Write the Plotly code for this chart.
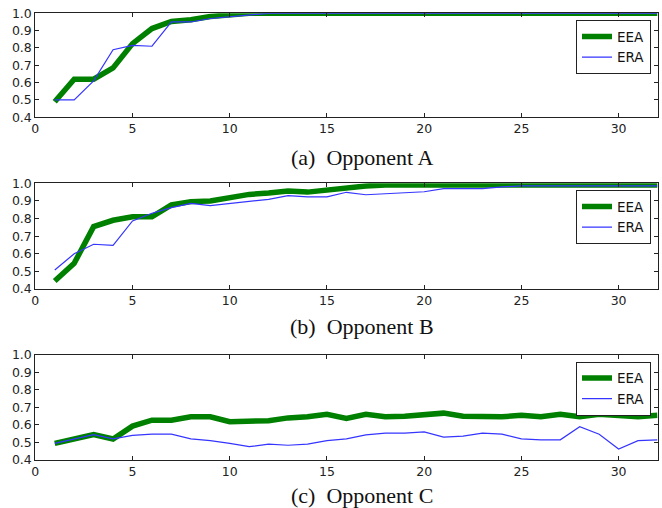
import plotly.graph_objects as go

x_rounds = list(range(1, 33))

eea_a = [0.49, 0.62, 0.62, 0.685, 0.825, 0.912, 0.953, 0.963, 0.982, 0.99] + [1.0] * 22
era_a = [0.50, 0.50, 0.61, 0.79, 0.815, 0.81, 0.95, 0.95, 0.97, 0.98, 0.99] + [1.0] * 21

eea_b = [0.445, 0.546, 0.754, 0.79, 0.81, 0.81, 0.877, 0.896, 0.90, 0.92, 0.937, 0.945,
         0.956, 0.95, 0.964, 0.972, 0.985, 0.99, 0.99, 0.99, 0.99, 0.99, 0.99, 0.99,
         0.99, 0.99, 0.99, 0.99, 0.99, 0.99, 0.99, 0.99]
era_b = [0.508, 0.60, 0.654, 0.648, 0.786, 0.83, 0.862, 0.886, 0.873, 0.885, 0.896, 0.909,
         0.93, 0.923, 0.923, 0.949, 0.935, 0.94, 0.945, 0.952, 0.97, 0.97, 0.97, 0.98,
         0.985, 0.985, 0.985, 0.985, 0.985, 0.985, 0.985, 0.985]

eea_c = [0.495, 0.518, 0.545, 0.52, 0.593, 0.627, 0.627, 0.646, 0.646, 0.618, 0.624, 0.624,
         0.64, 0.646, 0.66, 0.637, 0.66, 0.646, 0.65, 0.659, 0.667, 0.65, 0.65, 0.646,
         0.655, 0.646, 0.66, 0.646, 0.66, 0.655, 0.646, 0.655]
era_c = [0.495, 0.518, 0.545, 0.52, 0.54, 0.547, 0.547, 0.52, 0.51, 0.495, 0.476, 0.49,
         0.484, 0.49, 0.51, 0.52, 0.543, 0.553, 0.553, 0.56, 0.53, 0.536, 0.553, 0.547,
         0.52, 0.515, 0.515, 0.59, 0.547, 0.463, 0.51, 0.515]

captions = ["(a)  Opponent A", "(b)  Opponent B", "(c)  Opponent C"]
panels = [(eea_a, era_a), (eea_b, era_b), (eea_c, era_c)]

W, H = 662, 508
x_dom = [35.3 / W, 657.5 / W]
y_px = [(13.3, 117.3), (183.3, 289.0), (354.7, 460.0)]
cap_y = [157, 326, 495]

GREEN = "#008000"
BLUE = "#3535ff"

fig = go.Figure()
layout = dict(
    width=W, height=H,
    margin=dict(l=0, r=0, t=0, b=0),
    paper_bgcolor="white", plot_bgcolor="white",
    font=dict(family="DejaVu Sans", size=12, color="#222"),
    annotations=[],
)

for i, (eea, era) in enumerate(panels):
    n = "" if i == 0 else str(i + 1)
    xa, ya = "x" + n, "y" + n
    lg = "legend" + n
    fig.add_trace(go.Scatter(x=x_rounds, y=eea, mode="lines", name="EEA",
                             line=dict(color=GREEN, width=5.5), xaxis=xa, yaxis=ya,
                             legend=lg))
    fig.add_trace(go.Scatter(x=x_rounds, y=era, mode="lines", name="ERA",
                             line=dict(color=BLUE, width=1.2), xaxis=xa, yaxis=ya,
                             legend=lg))
    top, bot = y_px[i]
    axcommon = dict(showgrid=False, zeroline=False, showline=True, linecolor="#222",
                    linewidth=1, mirror="ticks", ticks="inside", ticklen=4,
                    tickcolor="#222", automargin=False,
                    tickfont=dict(family="DejaVu Sans", size=12.5, color="#222"))
    layout["xaxis" + n] = dict(domain=x_dom, range=[0, 32], dtick=5, tick0=0,
                               anchor=ya, **axcommon)
    layout["yaxis" + n] = dict(domain=[1 - bot / H, 1 - top / H], range=[0.4, 1.0],
                               dtick=0.1, tick0=0.4, tickformat=".1f", anchor=xa,
                               **axcommon)
    layout[lg] = dict(x=651 / W, xanchor="right", y=1 - (top + 7) / H, yanchor="top",
                      bgcolor="white", bordercolor="#222", borderwidth=1,
                      font=dict(family="DejaVu Sans", size=13.5, color="#111"),
                      tracegroupgap=0, itemwidth=30,
                      entrywidth=36, entrywidthmode="pixels")
    layout["annotations"].append(dict(
        text=captions[i], x=362 / W, y=1 - cap_y[i] / H, xref="paper", yref="paper",
        xanchor="center", yanchor="middle", showarrow=False,
        font=dict(family="Liberation Serif", size=22, color="#111")))

fig.update_layout(**layout)
fig.write_html("out.html",
               config={"displayModeBar": False},
               post_script="document.body.style.margin='0';document.body.style.overflow='hidden';")
